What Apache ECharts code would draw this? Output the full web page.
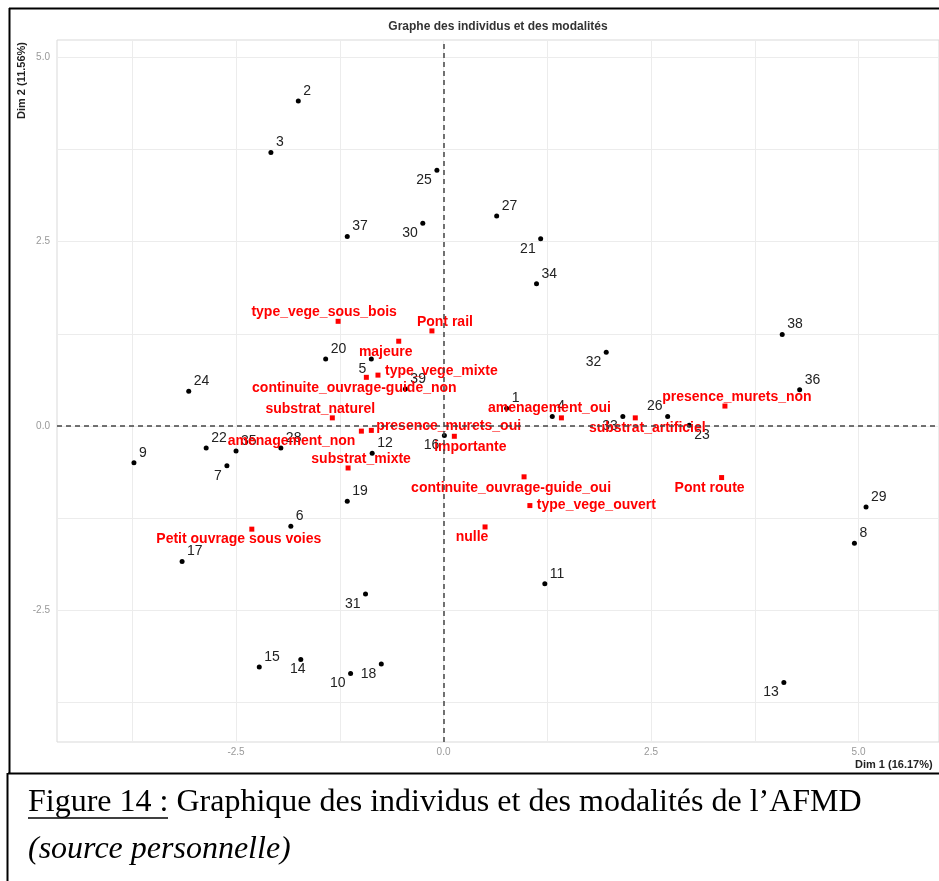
<!DOCTYPE html>
<html>
<head>
<meta charset="utf-8">
<script src="https://cdn.jsdelivr.net/npm/echarts@6/dist/echarts.min.js"></script>
<style>
html, body { margin: 0; padding: 0; background: #fff; }
#main { width: 939px; height: 881px; }
</style>
</head>
<body>
<div id="main"></div>
<script>
// individus (coordonnees Dim 1 / Dim 2)
var indNames = ['1','2','3','4','5','6','7','8','9','10','11','12','13','14','15','16','17','18','19','20',
  '21','22','23','24','25','26','27','28','29','30','31','32','33','34','35','36','37','38','39'];
var indDim1 = [0.76,-1.75,-2.08,1.31,-0.87,-1.84,-2.61,4.95,-3.73,-1.12,1.22,-0.86,4.10,-1.72,-2.22,0.01,-3.15,-0.75,-1.16,-1.42,
  1.17,-2.86,2.96,-3.07,-0.08,2.70,0.64,-1.96,5.09,-0.25,-0.94,1.96,2.16,1.12,-2.50,4.29,-1.16,4.08,-0.46];
var indDim2 = [0.24,4.41,3.71,0.13,0.91,-1.36,-0.54,-1.59,-0.50,-3.36,-2.14,-0.37,-3.48,-3.17,-3.27,-0.13,-1.84,-3.23,-1.02,0.91,
  2.54,-0.30,0.01,0.47,3.47,0.13,2.85,-0.30,-1.10,2.75,-2.28,1.00,0.13,1.93,-0.34,0.49,2.57,1.24,0.50];

// modalites
var modNames = ['type_vege_sous_bois','Pont rail','majeure','type_vege_mixte','continuite_ouvrage-guide_non',
  'substrat_naturel','amenagement_non','presence_murets_oui','substrat_mixte','importante','amenagement_oui',
  'substrat_artificiel','continuite_ouvrage-guide_oui','type_vege_ouvert','nulle','Pont route',
  'presence_murets_non','Petit ouvrage sous voies'];
var modDim1 = [-1.27,-0.14,-0.54,-0.79,-0.93,-1.34,-0.99,-0.87,-1.15,0.13,1.42,2.31,0.97,1.04,0.50,3.35,3.39,-2.31];
var modDim2 = [1.42,1.29,1.15,0.69,0.66,0.11,-0.07,-0.06,-0.57,-0.14,0.11,0.11,-0.69,-1.08,-1.37,-0.70,0.27,-1.40];

// axes
var xTickLabels = [-2.5, 0, 2.5, 5];
var yTickLabels = [-2.5, 0, 2.5, 5];
var xGridValues = [-3.75, -2.5, -1.25, 0, 1.25, 2.5, 3.75, 5];
var yGridValues = [-3.75, -2.5, -1.25, 0, 1.25, 2.5, 3.75, 5];

// placement des etiquettes (facon ggrepel)
var indLabelSide = ['ur','ur','ur','ur','dl','ur','dl','ur','ur','dl','ur','ur','dl','d','ur','dl','ur','dl','ur','ur',
  'dl','ur','dr','ur','dl','ul','ur','ur','ur','dl','dl','dl','dl','ur','ur','ur','ur','ur','ur'];
var sides = {
  ur: { offset: [5, -10], align: 'left' },
  dl: { offset: [-5, 10], align: 'right' },
  d:  { offset: [-3, 10], align: 'center' },
  dr: { offset: [5, 10], align: 'left' },
  ul: { offset: [-5, -10], align: 'right' }
};
var modLabelPos = [[-14,-9,'center'],[13,-9,'center'],[-13,11,'center'],[7,-4,'left'],[-12,11,'center'],
  [-12,-9,'center'],[-6,10,'right'],[5,-4,'left'],[13,-9,'center'],[16,11,'center'],[-12,-10,'center'],
  [12,10,'center'],[-13,11,'center'],[7,0,'left'],[-13,10,'center'],[-12,11,'center'],[12,-9,'center'],
  [-13,10,'center']];

var indData = indNames.map(function (n, i) {
  var s = sides[indLabelSide[i]];
  return { name: n, value: [indDim1[i], indDim2[i]], label: { offset: s.offset, align: s.align } };
});
var modData = modNames.map(function (n, i) {
  var p = modLabelPos[i];
  return { name: n, value: [modDim1[i], modDim2[i]], label: { offset: [p[0], p[1]], align: p[2] } };
});

var chart = echarts.init(document.getElementById('main'));
var fmt = function (v) { return v.toFixed(1); };

chart.setOption({
  animation: false,
  backgroundColor: '#fff',
  grid: { left: 57, right: -2, top: 40, bottom: 139, show: true, borderColor: '#d9d9d9', borderWidth: 1 },
  xAxis: {
    type: 'value', min: -4.657, max: 5.969,
    axisLine: { show: false },
    axisTick: { show: false, customValues: xGridValues },
    axisLabel: { customValues: xTickLabels, formatter: fmt, color: '#999', fontSize: 10, margin: 5, fontFamily: 'Liberation Sans' },
    splitLine: { show: true, lineStyle: { color: '#ececec', width: 1 } }
  },
  yAxis: {
    type: 'value', min: -4.288, max: 5.237,
    axisLine: { show: false },
    axisTick: { show: false, customValues: yGridValues },
    axisLabel: { customValues: yTickLabels, formatter: fmt, color: '#999', fontSize: 10, margin: 7, fontFamily: 'Liberation Sans' },
    splitLine: { show: true, lineStyle: { color: '#ececec', width: 1 } }
  },
  series: [
    {
      name: 'individus',
      type: 'scatter',
      silent: true,
      symbol: 'circle',
      symbolSize: 5,
      itemStyle: { color: '#000', opacity: 1 },
      label: {
        show: true, position: 'inside', formatter: '{b}',
        color: '#222', fontSize: 14, fontFamily: 'Liberation Sans', verticalAlign: 'middle'
      },
      data: indData,
      markLine: {
        silent: true,
        symbol: 'none',
        label: { show: false },
        lineStyle: { color: '#444', type: [5, 4], width: 1.5, opacity: 1 },
        data: [{ xAxis: 0 }, { yAxis: 0 }]
      }
    },
    {
      name: 'modalites',
      type: 'scatter',
      silent: true,
      symbol: 'rect',
      symbolSize: 5,
      itemStyle: { color: '#ff0000', opacity: 1 },
      label: {
        show: true, position: 'inside', formatter: '{b}',
        color: '#ff0000', fontSize: 14, fontWeight: 'bold', fontFamily: 'Liberation Sans', verticalAlign: 'middle'
      },
      data: modData
    }
  ],
  graphic: [
    { type: 'text', x: 498, y: 27, style: { text: 'Graphe des individus et des modalités', font: 'bold 12px "Liberation Sans"', fill: '#333', align: 'center', verticalAlign: 'middle' } },
    { type: 'text', x: 22, y: 42, rotation: Math.PI / 2, style: { text: 'Dim 2 (11.56%)', font: 'bold 11px "Liberation Sans"', fill: '#222', align: 'right', verticalAlign: 'middle' } },
    { type: 'text', x: 855, y: 765, style: { text: 'Dim 1 (16.17%)', font: 'bold 11px "Liberation Sans"', fill: '#222', align: 'left', verticalAlign: 'middle' } },
    // cadre
    { type: 'line', shape: { x1: 9, y1: 8.5, x2: 939, y2: 8.5 }, style: { stroke: '#000', lineWidth: 2 } },
    { type: 'line', shape: { x1: 9.5, y1: 8, x2: 9.5, y2: 773 }, style: { stroke: '#000', lineWidth: 2 } },
    { type: 'line', shape: { x1: 8, y1: 773.5, x2: 939, y2: 773.5 }, style: { stroke: '#000', lineWidth: 2 } },
    { type: 'line', shape: { x1: 7.5, y1: 773, x2: 7.5, y2: 881 }, style: { stroke: '#000', lineWidth: 2 } },
    // legende de la figure
    { type: 'text', x: 28, y: 803, style: { text: 'Figure 14 : Graphique des individus et des modalités de l\u2019AFMD', font: '32px "Liberation Serif"', fill: '#000', align: 'left', verticalAlign: 'middle' } },
    { type: 'line', shape: { x1: 28, y1: 818, x2: 168, y2: 818 }, style: { stroke: '#000', lineWidth: 1.5 } },
    { type: 'text', x: 28, y: 850, style: { text: '(source personnelle)', font: 'italic 32px "Liberation Serif"', fill: '#000', align: 'left', verticalAlign: 'middle' } }
  ]
});
</script>
</body>
</html>
